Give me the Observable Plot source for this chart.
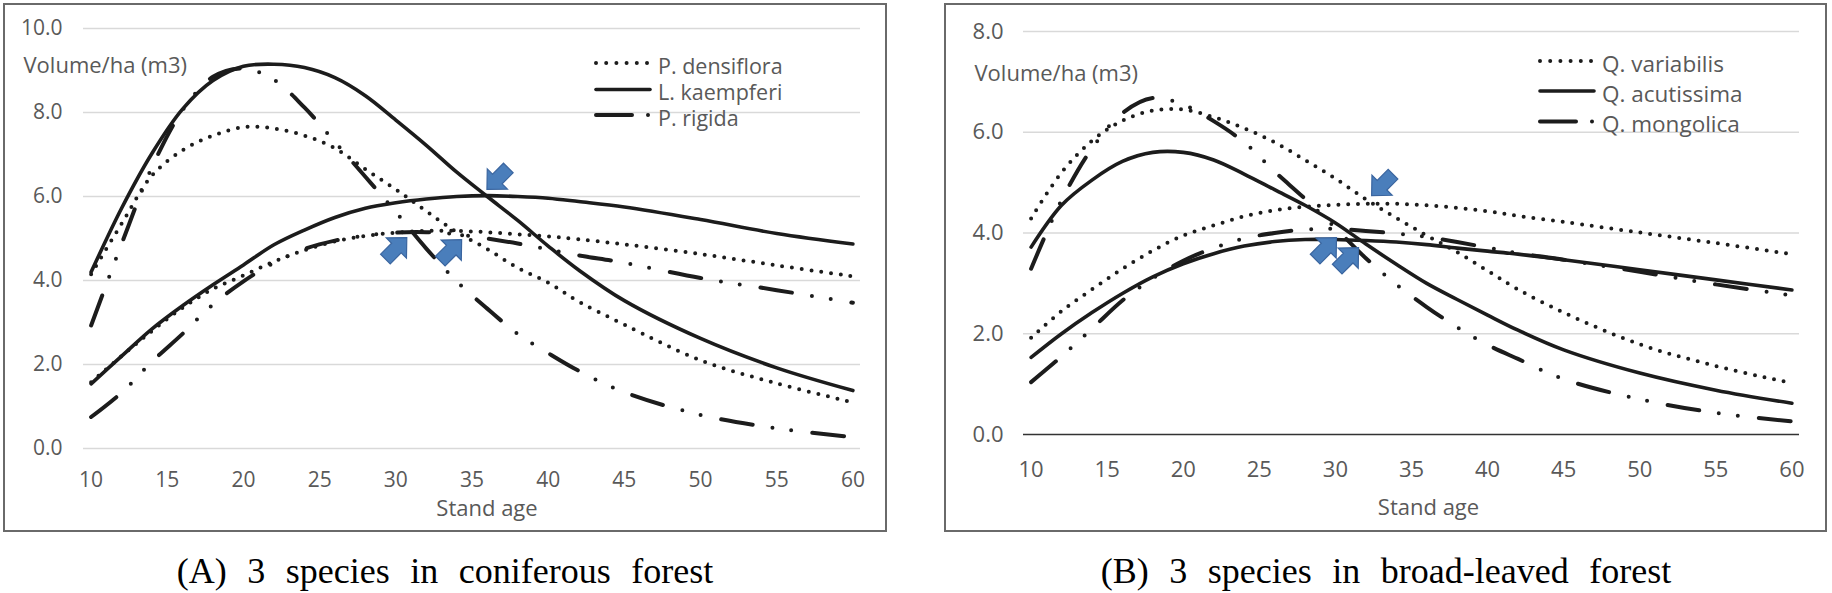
<!DOCTYPE html>
<html>
<head>
<meta charset="utf-8">
<script src="https://cdn.jsdelivr.net/npm/d3@7"></script>
<script src="https://cdn.jsdelivr.net/npm/@observablehq/plot@0.6"></script>
<style>
  html, body { margin: 0; padding: 0; background: #fff; }
  body { width: 1832px; height: 593px; position: relative; overflow: hidden; }
  .panel { position: absolute; box-sizing: border-box; border: 2px solid #6a6a6a; background: #fff; }
  .chart { position: absolute; }
  #overlay { position: absolute; left: 0; top: 0; pointer-events: none; }
</style>
</head>
<body>
<div class="panel" style="left:3px;top:3px;width:884px;height:529px"></div>
<div class="panel" style="left:944px;top:3px;width:883px;height:529px"></div>
<div class="chart" id="chartA" style="left:3px;top:3px"></div>
<div class="chart" id="chartB" style="left:944px;top:3px"></div>
<svg id="overlay" width="1832" height="593"></svg>
<script>
// ---------------- data ----------------
const ages = [10,12,14,16,18,20,22,24,26,28,30,32,34,36,38,40,42,45,50,55,60];
const xTicks = [10,15,20,25,30,35,40,45,50,55,60];
const yTicksA = [0,2,4,6,8,10];
const yTicksB = [0,2,4,6,8];

// (A) coniferous
const speciesA = ["P. densiflora", "L. kaempferi", "P. rigida"];
const pdCAI = [4.15,5.35,6.5,7.1,7.45,7.65,7.62,7.45,7.15,6.65,6.17,5.65,5.15,4.75,4.3,3.95,3.5,2.95,2.1,1.55,1.1];
const pdMAI = [1.58,2.2,2.8,3.35,3.8,4.12,4.45,4.72,4.93,5.06,5.14,5.18,5.18,5.15,5.1,5.05,4.98,4.86,4.63,4.36,4.1];
const lkCAI = [4.2,5.72,7.03,8.08,8.76,9.1,9.15,9.07,8.83,8.4,7.82,7.22,6.58,6.0,5.43,4.82,4.25,3.52,2.62,1.92,1.38];
const lkMAI = [1.54,2.2,2.85,3.4,3.9,4.37,4.85,5.2,5.5,5.72,5.85,5.94,6.0,6.02,6.0,5.96,5.88,5.75,5.45,5.12,4.87];
const prCAI = [2.93,4.87,6.7,8.05,8.85,9.05,8.78,8.12,7.3,6.47,5.63,4.76,3.98,3.33,2.73,2.27,1.85,1.34,0.8,0.48,0.27];
const prMAI = [0.75,1.33,2.07,2.73,3.43,3.98,4.42,4.75,4.95,5.07,5.14,5.15,5.1,5.0,4.88,4.74,4.6,4.42,4.06,3.77,3.47];

// (B) broad-leaved
const speciesB = ["Q. variabilis", "Q. acutissima", "Q. mongolica"];
const qvCAI = [4.29,5.2,5.83,6.23,6.43,6.45,6.3,6.08,5.8,5.45,5.08,4.67,4.3,3.95,3.62,3.25,2.88,2.42,1.79,1.36,1.02];
const qvMAI = [1.92,2.45,2.88,3.29,3.65,3.95,4.15,4.33,4.45,4.52,4.56,4.58,4.58,4.55,4.5,4.43,4.34,4.22,4.01,3.8,3.58];
const qaCAI = [3.72,4.55,5.05,5.42,5.6,5.6,5.45,5.17,4.86,4.55,4.2,3.78,3.38,3.0,2.68,2.37,2.07,1.68,1.22,0.88,0.62];
const qaMAI = [1.53,2.0,2.42,2.8,3.13,3.39,3.59,3.74,3.83,3.87,3.87,3.85,3.82,3.77,3.7,3.64,3.58,3.47,3.27,3.07,2.87];
const qmCAI = [3.29,4.65,5.68,6.38,6.68,6.55,6.22,5.8,5.22,4.68,4.1,3.5,2.98,2.53,2.13,1.78,1.5,1.1,0.7,0.43,0.26];
const qmMAI = [1.04,1.55,2.1,2.66,3.1,3.45,3.7,3.89,4.0,4.07,4.08,4.04,3.99,3.92,3.82,3.71,3.6,3.47,3.23,2.98,2.76];

// crossing markers (age, volume, direction)
const arrowAgeA = [36.7, 30.0, 33.6];
const arrowVolA = [6.43, 4.76, 4.71];
const arrowDirA = ["down-left", "up-right", "up-right"];
const arrowAgeB = [33.1, 29.35, 30.8];
const arrowVolB = [4.96, 3.69, 3.49];
const arrowDirB = ["down-left", "up-right", "up-right"];

const captionA = "(A) 3 species in coniferous forest";
const captionB = "(B) 3 species in broad-leaved forest";
const yLabel = "Volume/ha (m3)";
const xLabel = "Stand age";

// ---------------- helpers ----------------
const FONT = '"Open Sans", "Noto Sans", sans-serif';
const INK = "#1c1c1c";
const DOT = "0 9.8";
const DASHDOT = "32 20 0 19 0 21";

function rows(name, cai, mai) {
  return ages.flatMap((a, i) => [
    {age: a, v: cai[i], series: name + " CAI", sp: name},
    {age: a, v: mai[i], series: name + " MAI", sp: name}
  ]);
}
function arrowSymbol(angleDeg) {
  const a = angleDeg * Math.PI / 180, c = Math.cos(a), s = Math.sin(a);
  const pts = [[0,-1],[0.92,-0.05],[0.44,-0.05],[0.44,0.95],[-0.44,0.95],[-0.44,-0.05],[-0.92,-0.05]];
  return {
    draw(ctx, size) {
      const r = Math.sqrt(size / Math.PI);
      pts.forEach(([x, y], i) => {
        const X = (x * c - y * s) * r, Y = (x * s + y * c) * r;
        i ? ctx.lineTo(X, Y) : ctx.moveTo(X, Y);
      });
      ctx.closePath();
    }
  };
}
const upRight = arrowSymbol(45), downLeft = arrowSymbol(225);
function arrowMarks(agesArr, vols, dirs) {
  const data = agesArr.map((a, i) => ({age: a, v: vols[i], dir: dirs[i]}));
  const o = {x: "age", y: "v", r: 15.5, fill: "#4A7EBB", stroke: "#3A659F", strokeWidth: 1.2};
  return [
    Plot.dot(data.filter(d => d.dir === "up-right"), {...o, symbol: upRight}),
    Plot.dot(data.filter(d => d.dir === "down-left"), {...o, symbol: downLeft})
  ];
}
function lineMarks(data, styles) {
  return styles.map(([sp, dash]) => Plot.line(data.filter(d => d.sp === sp), {
    x: "age", y: "v", z: "series", curve: "catmull-rom",
    stroke: INK, strokeWidth: dash === null ? 3.6 : 4,
    strokeDasharray: dash === null ? undefined : dash,
    strokeLinecap: "round"
  }));
}

// ---------------- panel A ----------------
const dataA = [...rows(speciesA[0], pdCAI, pdMAI), ...rows(speciesA[1], lkCAI, lkMAI), ...rows(speciesA[2], prCAI, prMAI)];
const plotA = Plot.plot({
  width: 884, height: 529,
  marginLeft: 80, marginRight: 27, marginTop: 25, marginBottom: 84,
  x: {domain: [9.5, 60.5]},
  y: {domain: [0, 10]},
  style: {background: "transparent", fontFamily: FONT, fontSize: "21px", color: "#595959", overflow: "visible"},
  marks: [
    Plot.gridY(yTicksA, {stroke: "#d9d9d9", strokeOpacity: 1, strokeWidth: 1.3}),
    Plot.axisY({ticks: yTicksA, tickSize: 0, tickPadding: 21, tickFormat: d => d.toFixed(1), label: null}),
    Plot.axisX({ticks: xTicks, tickSize: 0, tickPadding: 24, label: null}),
    Plot.text([xLabel], {text: d => d, frameAnchor: "bottom", lineAnchor: "middle", dx: 15, dy: 60, fontSize: 22}),
    Plot.text([yLabel], {text: d => d, frameAnchor: "top-left", lineAnchor: "middle", textAnchor: "start", dx: -60, dy: 37, fontSize: 22}),
    ...lineMarks(dataA, [[speciesA[0], DOT], [speciesA[1], null], [speciesA[2], DASHDOT]]),
    ...arrowMarks(arrowAgeA, arrowVolA, arrowDirA)
  ]
});
document.getElementById("chartA").appendChild(plotA);

// ---------------- panel B ----------------
const dataB = [...rows(speciesB[0], qvCAI, qvMAI), ...rows(speciesB[1], qaCAI, qaMAI), ...rows(speciesB[2], qmCAI, qmMAI)];
const plotB = Plot.plot({
  width: 883, height: 529,
  marginLeft: 79, marginRight: 28, marginTop: 28, marginBottom: 98,
  x: {domain: [9.5, 60.5]},
  y: {domain: [0, 8]},
  style: {background: "transparent", fontFamily: FONT, fontSize: "22px", color: "#595959", overflow: "visible"},
  marks: [
    Plot.gridY(yTicksB.filter(d => d !== 0), {stroke: "#d9d9d9", strokeOpacity: 1, strokeWidth: 1.3}),
    Plot.ruleY([0], {stroke: "#333", strokeWidth: 1.6}),
    Plot.axisY({ticks: yTicksB, tickSize: 0, tickPadding: 20, tickFormat: d => d.toFixed(1), label: null}),
    Plot.axisX({ticks: xTicks, tickSize: 0, tickPadding: 27, label: null}),
    Plot.text([xLabel], {text: d => d, frameAnchor: "bottom", lineAnchor: "middle", dx: 17, dy: 73, fontSize: 22}),
    Plot.text([yLabel], {text: d => d, frameAnchor: "top-left", lineAnchor: "middle", textAnchor: "start", dx: -49, dy: 42, fontSize: 22}),
    ...lineMarks(dataB, [[speciesB[0], DOT], [speciesB[1], null], [speciesB[2], DASHDOT]]),
    ...arrowMarks(arrowAgeB, arrowVolB, arrowDirB)
  ]
});
document.getElementById("chartB").appendChild(plotB);

// ---------------- legends & captions ----------------
const ov = d3.select("#overlay");
function legend(names, x0, x1, tx, ys, fs) {
  const dashes = [DOT, null, "36 16 0 99"];
  names.forEach((n, i) => {
    ov.append("line").attr("x1", x0 + 2).attr("x2", x1 - 2).attr("y1", ys[i]).attr("y2", ys[i])
      .attr("stroke", INK).attr("stroke-width", dashes[i] === null ? 3.6 : 4)
      .attr("stroke-linecap", "round")
      .attr("stroke-dasharray", dashes[i] === DOT ? "0 10.2" : dashes[i]);
    ov.append("text").attr("x", tx).attr("y", ys[i] + 2).attr("dominant-baseline", "central")
      .attr("font-family", FONT).attr("font-size", fs).attr("fill", "#595959").text(n);
  });
}
legend(speciesA, 594, 652, 658, [63, 89.5, 115], 21.5);
legend(speciesB, 1538, 1596, 1602, [61, 91, 121.5], 22.5);

function caption(t, cx) {
  ov.append("text").attr("x", cx).attr("y", 583).attr("text-anchor", "middle")
    .attr("font-family", '"Liberation Serif", "Times New Roman", serif').attr("font-size", 36)
    .style("word-spacing", "11.5px").attr("fill", "#000").text(t);
}
caption(captionA, 445);
caption(captionB, 1386);
</script>
</body>
</html>
